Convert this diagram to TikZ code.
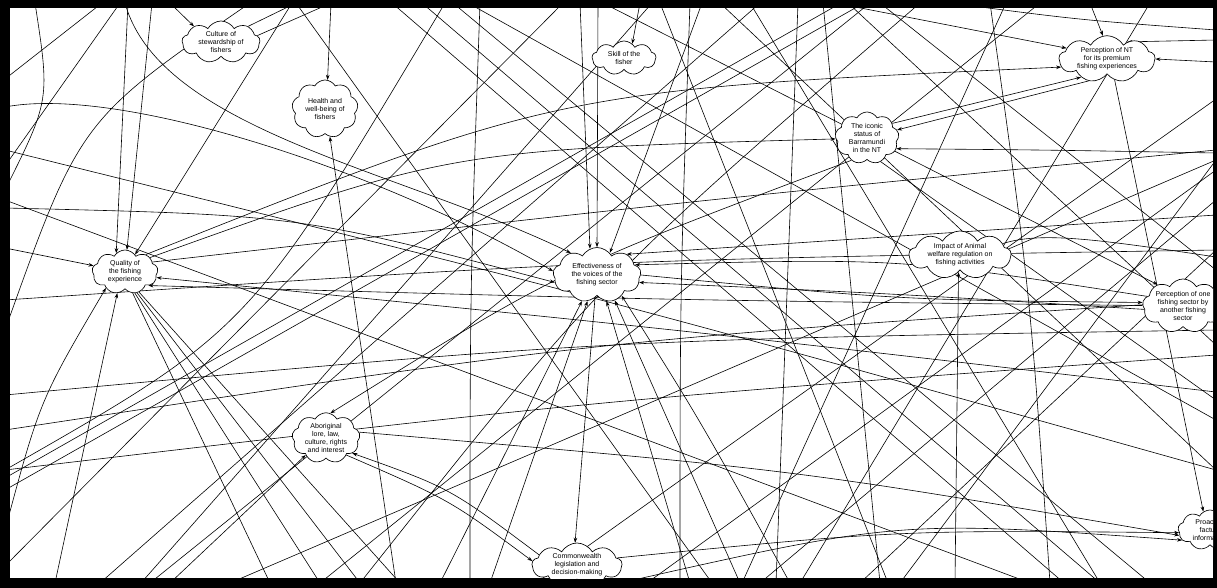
\documentclass[tikz,border=0pt]{standalone}
\usepackage{fontspec}
\setmainfont{Liberation Sans}
\usetikzlibrary{shapes.symbols,arrows.meta,backgrounds}
\begin{document}
\begin{tikzpicture}[x=1pt,y=-1pt,
 cl/.style={cloud, cloud puffs=9, cloud puff arc=120, cloud ignores aspect, draw, fill=white, line width=0.65pt, align=center, font=\fontsize{7}{8}\selectfont, inner sep=0pt},
 ar/.style={line width=0.6pt, -{Stealth[length=5pt,width=3.6pt]}},
 ln/.style={line width=0.6pt}]
\useasboundingbox (0,0) rectangle (1217,588);
\foreach \x in {35,55,102,120,125,128,152,170,250,292,296,331,392,422,445,453,468,480,563,580,598,603,640,652,660,690,702,720,750,760,780,798,823,835,841,848,864,870,880,920,950,990,1006,1040,1090,1150}
  \coordinate (t\x) at (\x,3);
\foreach \x in {55,100,141,150,170,200,230,270,320,360,396,400,440,470,490,536,620,640,647,680,690,712,740,742,760,776,790,800,860,880,888,900,955,1030,1050,1064,1100,1150}
  \coordinate (b\x) at (\x,583);
\foreach \y in {79,107,150,166,190,200,208,248,300,330,395,430,470,478,490,530,566}
  \coordinate (l\y) at (5,\y);
\foreach \y in {30,40,62,99,150,153,160,170,200,215,250,257,270,300,330,345,355,392,400,420,470}
  \coordinate (r\y) at (1216,\y);
\begin{scope}
\clip (10,8) rectangle (1213,578);
\node[cl, minimum width=78pt, minimum height=42pt] (cult) at (221,42) {Culture of\\stewardship of\\fishers};
\node[cl, minimum width=66pt, minimum height=58pt] (health) at (325,109) {Health and\\well-being of\\fishers};
\node[cl, minimum width=64pt, minimum height=34pt] (skill) at (624,58) {Skill of the\\fisher};
\node[cl, minimum width=96pt, minimum height=42pt] (pnt) at (1107,59) {Perception of NT\\for its premium\\fishing experiences};
\node[cl, minimum width=64pt, minimum height=52pt] (icon) at (867,138) {The iconic\\status of\\Barramundi\\in the NT};
\node[cl, minimum width=66pt, minimum height=44pt] (qual) at (125,272) {Quality of\\the fishing\\experience};
\node[cl, minimum width=88pt, minimum height=55pt] (eff) at (597,275) {Effectiveness of\\the voices of the\\fishing sector};
\node[cl, minimum width=102pt, minimum height=38pt] (imp) at (960,255) {Impact of Animal\\welfare regulation on\\fishing activities};
\node[cl, minimum width=78pt, minimum height=48pt] (pone) at (1183,306) {Perception of one\\fishing sector by\\another fishing\\sector};
\node[cl, minimum width=68pt, minimum height=48pt] (abor) at (326,438) {Aboriginal\\lore, law,\\culture, rights\\and interest};
\node[cl, minimum width=90pt, minimum height=42pt] (comm) at (577,565) {Commonwealth\\legislation and\\decision-making};
\node[cl, minimum width=64pt, minimum height=40pt] (proac) at (1210,530) {Proactive\\factual\\information};
\end{scope}
\begin{pgfonlayer}{background}
\fill[black] (0,0) rectangle (1217,588);
\fill[white] (10,8) rectangle (1213,578);
\begin{scope}
\clip (10,8) rectangle (1213,578);
% into quality
\draw[ar] (t128) -- (qual.115);
\draw[ar] (t152) -- (qual.85);
\draw[ar] (t292) -- (qual.60);
\draw[ar] (l248) -- (qual);
\draw[ar] (l530) .. controls (40,400) .. (qual.220);
\draw[ar] (b55) -- (qual.250);
\draw[ar] (r392) .. controls (683,330) .. (qual.350);
\draw[ar] (pone) .. controls (660,300) .. (qual.330);
% out of quality
\draw[ar] (qual.40) .. controls (560,90) .. (pnt.190);
\draw[ar] (qual.30) .. controls (450,150) .. (icon);
\draw[ln] (qual.20) .. controls (700,200) .. (r150);
\draw[ln] (qual.290) -- (b270);
\draw[ln] (qual.295) -- (b320);
\draw[ln] (qual.300) -- (b360);
\draw[ln] (qual.305) -- (b400);
% culture
\draw[ar] (t170) -- (cult.150);
\draw[ln] (cult.30) -- (t296);
\draw[ln] (cult.10) -- (t331);
% health
\draw[ar] (t331) -- (health.85);
\draw[ar] (b396) -- (health.280);
% skill
\draw[ar] (t640) -- (skill.60);
% effectiveness
\draw[ar] (t580) -- (eff.105);
\draw[ar] (t598) -- (eff.90);
\draw[ar] (t702) -- (eff.60);
\draw[ar] (r215) -- (eff.35);
\draw[ar] (t125) .. controls (160,130) and (400,170) .. (eff.140);
\draw[ar] (l107) .. controls (120,85) and (380,170) .. (eff.175);
\draw[ar] (l208) .. controls (300,215) .. (eff.190);
\draw[ar] (pone.165) .. controls (900,258) .. (eff.15);
\draw[ar] (pone.185) .. controls (900,294) .. (eff.350);
\draw[ar] (eff.0) .. controls (900,300) .. (pone.175);
\draw[ar] (eff.265) -- (comm.95);
\draw[ar] (b440) -- (eff.240);
\draw[ar] (b490) -- (eff.250);
\draw[ar] (b690) -- (eff.290);
\draw[ar] (b740) -- (eff.305);
\draw[ar] (b790) .. controls (700,420) .. (eff.320);
% aboriginal
\draw[ar] (abor.320) .. controls (450,500) .. (comm.175);
\draw[ar] (comm.165) .. controls (450,488) .. (abor.330);
\draw[ar] (b170) -- (abor.220);
\draw[ar] (icon.235) .. controls (560,270) .. (abor.80);
\draw[ar] (abor.10) .. controls (800,470) .. (proac.190);
% perception NT
\draw[ar] (t1090) -- (pnt.100);
\draw[ar] (t835) -- (pnt.165);
\draw[ar] (icon.30) -- (pnt.215);
\draw[ar] (pnt.230) -- (icon.15);
\draw[ar] (r40) -- (pnt.40);
\draw[ar] (r62) -- (pnt.0);
\draw[ar] (pnt.290) .. controls (1160,300) .. (proac.110);
% iconic
\draw[ar] (r153) .. controls (1050,150) .. (icon.340);
\draw[ln] (icon.300) -- (r400);
% perception one
\draw[ar] (t603) -- (pone.140);
% impact
\draw[ar] (b955) -- (imp.265);
\draw[ln] (imp.15) .. controls (1040,232) and (1090,238) .. (r257);
% proactive
\draw[ar] (b620) .. controls (900,520) .. (proac.200);
\draw[ar] (comm.10) .. controls (900,530) .. (proac.185);
% free crossing lines
\draw[ln] (l79) -- (t102);
\draw[ln] (l166) -- (t120);
\draw[ln] (t35) .. controls (50,100) .. (l190);
\draw[ln] (t250) .. controls (80,120) .. (l330);
\draw[ln] (l200) -- (b1030);
\draw[ln] (l150) .. controls (610,300) .. (r470);
\draw[ln] (l300) .. controls (600,260) .. (r250);
\draw[ln] (l395) .. controls (600,340) .. (r330);
\draw[ln] (l470) .. controls (600,400) .. (r355);
\draw[ln] (l430) .. controls (600,340) .. (r300);
\draw[ln] (b100) -- (t760);
\draw[ln] (b150) -- (t870);
\draw[ln] (b230) -- (r160);
\draw[ln] (b320) -- (t1040);
\draw[ln] (b536) -- (r99);
\draw[ln] (b647) -- (r170);
\draw[ln] (b760) -- (r200);
\draw[ln] (b860) -- (r250);
\draw[ln] (t392) -- (b1064);
\draw[ln] (t422) -- (b1100);
\draw[ln] (t453) -- (b1150);
\draw[ln] (t468) -- (r420);
\draw[ln] (t563) -- (l566);
\draw[ln] (t652) -- (b141);
\draw[ln] (t296) -- (b712);
\draw[ln] (t660) -- (b888);
\draw[ln] (t720) -- (r470);
\draw[ln] (t750) -- (b1100);
\draw[ln] (t480) .. controls (470,290) .. (b470);
\draw[ln] (t690) .. controls (680,290) .. (b680);
\draw[ln] (t798) -- (b776);
\draw[ln] (t823) -- (b880);
\draw[ln] (t841) -- (l478);
\draw[ln] (t864) -- (l490);
\draw[ln] (t848) -- (r345);
\draw[ln] (t880) -- (r270);
\draw[ln] (t1006) -- (b742);
\draw[ln] (t950) .. controls (1080,20) .. (r30);
\draw[ln] (t990) .. controls (1030,290) .. (b1050);
\draw[ln] (t445) .. controls (250,330) .. (l470);
\draw[ln] (t920) .. controls (600,280) .. (b360);
\draw[ln] (t1150) -- (b800);
\draw[ln] (r160) -- (b900);
\end{scope}
\end{pgfonlayer}
\end{tikzpicture}
\end{document}
